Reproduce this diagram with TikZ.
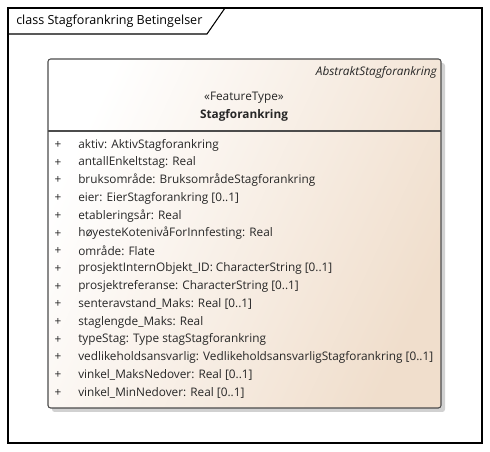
\documentclass[tikz,border=0pt]{standalone}
\usepackage{fontspec}
\setmainfont{Open Sans}
\begin{document}
\begin{tikzpicture}[x=0.75pt,y=-0.75pt,
  attr/.style={anchor=west,inner sep=0pt,font=\fontsize{8.85pt}{10pt}\selectfont,text=black!85},
  plus/.style={anchor=center,inner sep=0pt,font=\fontsize{8.85pt}{10pt}\selectfont,text=black!85}]
\useasboundingbox (0,0) rectangle (490,452);
\fill[white] (0,0) rectangle (490,452);
% frame
\draw[black,line width=0.8pt] (8,8) rectangle (482,443);
\draw[black,line width=0.8pt] (8,34) -- (207,34) -- (225,8);
\node[anchor=west,inner sep=0pt,font=\fontsize{9.4pt}{11pt}\selectfont] (title) at (16,21) {class Stagforankring Betingelser};
% shadow
\fill[black!18,rounded corners=2pt] (52,63) rectangle (445,412);
% box
\shade[left color=white,right color={rgb,255:red,240;green,222;blue,204},shading angle=65,rounded corners=2pt] (48,59) rectangle (441,408);
\draw[black!70,line width=0.8pt,rounded corners=2pt] (48,59) rectangle (441,408);
\draw[black!70,line width=0.8pt] (48,131) -- (441,131);
\node[anchor=east,inner sep=0pt,font=\fontsize{8.85pt}{10pt}\selectfont\itshape,text=black!85] (abs) at (437,72) {AbstraktStagforankring};
\node[inner sep=0pt,font=\fontsize{8.85pt}{10pt}\selectfont,text=black!85] (st) at (244,98) {«FeatureType»};
\node[inner sep=0pt,font=\fontsize{8.85pt}{10pt}\selectfont\bfseries,text=black!85] (nm) at (244,115) {Stagforankring};
\foreach \t [count=\i from 0] in {aktiv: AktivStagforankring,antallEnkeltstag: Real,bruksområde: BruksområdeStagforankring,eier: EierStagforankring [0..1],etableringsår: Real,høyesteKotenivåForInnfesting: Real,område: Flate,prosjektInternObjekt\_ID: CharacterString [0..1],prosjektreferanse: CharacterString [0..1],senteravstand\_Maks: Real [0..1],staglengde\_Maks: Real,typeStag: Type stagStagforankring,vedlikeholdsansvarlig: VedlikeholdsansvarligStagforankring [0..1],vinkel\_MaksNedover: Real [0..1],vinkel\_MinNedover: Real [0..1]}{
  \node[plus] (p\i) at (58,{145+17.7*\i}) {+};
  \node[attr] (a\i) at (78,{145+17.7*\i}) {\t};
}
\end{tikzpicture}
\end{document}
